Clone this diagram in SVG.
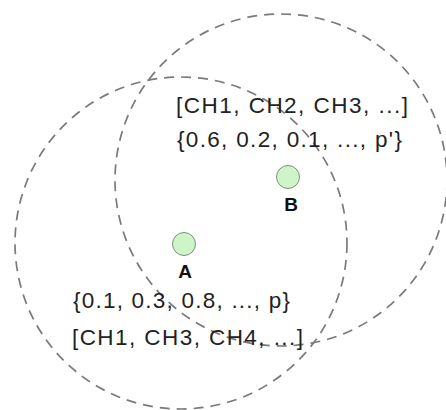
<svg xmlns="http://www.w3.org/2000/svg" width="446" height="410" viewBox="0 0 446 410">
<style>
.ring{fill:none;stroke:#7a7a7a;stroke-width:1.7;stroke-dasharray:10 7}
.pt{fill:#cdf5c8;stroke:#7f8f7f;stroke-width:1}
.lbl{font-family:"Liberation Sans",Arial,sans-serif;font-size:22.5px;fill:#222}
.name{font-family:"Liberation Sans",Arial,sans-serif;font-size:19px;font-weight:bold;fill:#111;text-anchor:middle}
</style>
<rect width="446" height="410" fill="#fff"/>
<g id="connectors">
<circle class="ring" cx="181" cy="243" r="166"/>
<circle class="ring" cx="281" cy="180" r="166"/>
</g>
<g id="nodeA">
<circle class="pt" cx="184" cy="244" r="11.5"/>
<text class="name" x="185" y="278">A</text>
<text class="lbl" x="73" y="308" textLength="217" lengthAdjust="spacing">{0.1, 0.3, 0.8, ..., p}</text>
<text class="lbl" x="72" y="345" textLength="231" lengthAdjust="spacing">[CH1, CH3, CH4, ...]</text>
</g>
<g id="nodeB">
<circle class="pt" cx="288" cy="177" r="11.5"/>
<text class="name" x="291" y="211">B</text>
<text class="lbl" x="176" y="113" textLength="232" lengthAdjust="spacing">[CH1, CH2, CH3, ...]</text>
<text class="lbl" x="177" y="147" textLength="225" lengthAdjust="spacing">{0.6, 0.2, 0.1, ..., p'}</text>
</g>
</svg>
